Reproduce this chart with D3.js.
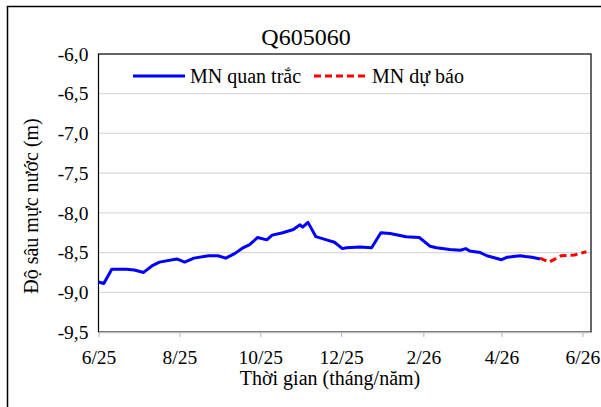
<!DOCTYPE html>
<html>
<head>
<meta charset="utf-8">
<script src="https://cdn.jsdelivr.net/npm/d3@7"></script>
<style>
  html, body { margin: 0; padding: 0; background: #fff; }
  svg { display: block; }
</style>
</head>
<body>
<svg id="chart" width="601" height="407"></svg>
<script>
// ---- data ----
const title = "Q605060";
const seriesNames = ["MN quan trắc", "MN dự báo"];
const observedDates = [
  "2025-06-01","2025-06-05","2025-06-11","2025-06-22","2025-06-28","2025-07-05",
  "2025-07-12","2025-07-17","2025-07-30","2025-08-05","2025-08-12","2025-08-23",
  "2025-08-30","2025-09-05","2025-09-12","2025-09-18","2025-09-23","2025-09-29",
  "2025-10-06","2025-10-10","2025-10-18","2025-10-26","2025-10-31","2025-11-02",
  "2025-11-06","2025-11-12","2025-11-20","2025-11-26","2025-12-02","2025-12-05",
  "2025-12-15","2025-12-24","2025-12-31","2026-01-07","2026-01-19","2026-01-29",
  "2026-02-06","2026-02-11","2026-02-21","2026-03-01","2026-03-05","2026-03-08",
  "2026-03-16","2026-03-21","2026-04-01","2026-04-05","2026-04-10","2026-04-15",
  "2026-04-19","2026-04-24","2026-04-30"
];
const observedValues = [
  -8.87,-8.89,-8.71,-8.71,-8.72,-8.75,
  -8.66,-8.62,-8.58,-8.62,-8.57,-8.54,
  -8.54,-8.57,-8.51,-8.44,-8.40,-8.31,
  -8.34,-8.28,-8.25,-8.21,-8.15,-8.18,
  -8.12,-8.30,-8.34,-8.37,-8.45,-8.44,
  -8.43,-8.44,-8.25,-8.26,-8.30,-8.31,
  -8.42,-8.44,-8.46,-8.47,-8.45,-8.48,
  -8.50,-8.54,-8.59,-8.56,-8.55,-8.54,
  -8.55,-8.56,-8.58
];
const forecastDates = ["2026-04-30","2026-05-07","2026-05-16","2026-05-26","2026-06-04"];
const forecastValues = [-8.57,-8.62,-8.54,-8.53,-8.49];
const xTickDates = ["2025-06-01","2025-08-01","2025-10-01","2025-12-01","2026-02-01","2026-04-01","2026-06-01"];
const xTickLabels = ["6/25","8/25","10/25","12/25","2/26","4/26","6/26"];
const yTicks = [-9.5,-9.0,-8.5,-8.0,-7.5,-7.0,-6.5,-6.0];
const xDomain = ["2025-06-01","2026-06-07T12:00"];
const yDomain = [-9.5,-6.0];
const xTitle = "Thời gian (tháng/năm)";
const yTitle = "Độ sâu mực nước (m)";

// ---- pick an installed serif font ----
function fontAvailable(name) {
  const c = document.createElement("canvas").getContext("2d");
  const s = "MN quan trắc Q605060 WwIil";
  return ["monospace", "sans-serif"].some(base => {
    c.font = `40px ${base}`; const w0 = c.measureText(s).width;
    c.font = `40px "${name}", ${base}`; const w1 = c.measureText(s).width;
    return Math.abs(w0 - w1) > 0.5;
  });
}
const candidates = ["Liberation Serif", "Times New Roman", "Tinos", "Nimbus Roman", "DejaVu Serif", "Noto Serif", "FreeSerif"];
const found = candidates.find(fontAvailable);
const FONT = found ? `"${found}", serif` : "serif";

// ---- drawing ----
const parse = s => new Date(s.length > 10 ? s : s + "T00:00");
const svg = d3.select("#chart").style("font-family", FONT);
const L = 98.5, R = 591, T = 54, B = 332;

const x = d3.scaleTime().domain(xDomain.map(parse)).range([L, R]);
const y = d3.scaleLinear().domain(yDomain).range([B, T]);

// outer frame (only top/left visible)
svg.append("rect").attr("x", 7.5).attr("y", 6.5).attr("width", 700).attr("height", 500)
  .attr("fill", "none").attr("stroke", "#000").attr("stroke-width", 1.5);

// gridlines
svg.append("g").selectAll("line").data(yTicks.filter(v => v > yDomain[0] && v < yDomain[1]))
  .join("line")
  .attr("x1", L).attr("x2", R)
  .attr("y1", d => y(d)).attr("y2", d => y(d))
  .attr("stroke", "#d9d9d9").attr("stroke-width", 1.2);

// plot border
svg.append("rect").attr("x", L).attr("y", T).attr("width", R - L).attr("height", B - T)
  .attr("fill", "none").attr("stroke", "#000").attr("stroke-width", 1.2);

// x axis
const xAxis = d3.axisBottom(x)
  .tickValues(xTickDates.map(parse))
  .tickFormat((d, i) => xTickLabels[i])
  .tickSize(5).tickSizeOuter(0).tickPadding(13);
const gx = svg.append("g").attr("transform", `translate(0,${B})`).call(xAxis)
  .attr("font-family", null).attr("font-size", null);
gx.select(".domain").attr("stroke", "#bfbfbf").attr("stroke-width", 1.5);
gx.selectAll(".tick line").attr("stroke", "#bfbfbf").attr("stroke-width", 1.2);
gx.selectAll(".tick text").style("font-size", "19.5px").attr("fill", "#000").style("font-family", FONT);

// y axis labels
const yAxis = d3.axisLeft(y).tickValues(yTicks)
  .tickFormat(d => d3.format(".1f")(d).replace(".", ",").replace("−", "-"))
  .tickSize(0).tickPadding(10);
const gy = svg.append("g").attr("transform", `translate(${L},0)`).call(yAxis)
  .attr("font-family", null).attr("font-size", null);
gy.select(".domain").remove();
gy.selectAll(".tick text").style("font-size", "19.5px").attr("fill", "#000").style("font-family", FONT);

// lines
const line = d3.line().x(d => x(d.date)).y(d => y(d.value));
const obs = observedDates.map((d, i) => ({ date: parse(d), value: observedValues[i] }));
const fc = forecastDates.map((d, i) => ({ date: parse(d), value: forecastValues[i] }));

svg.append("path").datum(fc).attr("d", line)
  .attr("fill", "none").attr("stroke", "#ff0000").attr("stroke-width", 3)
  .attr("stroke-dasharray", "7,4");
svg.append("path").datum(obs).attr("d", line)
  .attr("fill", "none").attr("stroke", "#0000ff").attr("stroke-width", 3)
  .attr("stroke-linejoin", "round");

// title
svg.append("text").attr("x", 306).attr("y", 45).attr("text-anchor", "middle")
  .style("font-size", "24px").text(title);

// legend
const leg = svg.append("g");
leg.append("line").attr("x1", 133).attr("x2", 185).attr("y1", 76).attr("y2", 76)
  .attr("stroke", "#0000ff").attr("stroke-width", 3);
leg.append("text").attr("x", 190).attr("y", 82.5).style("font-size", "20px").text(seriesNames[0]);
leg.append("line").attr("x1", 314).attr("x2", 368).attr("y1", 76).attr("y2", 76)
  .attr("stroke", "#ff0000").attr("stroke-width", 3).attr("stroke-dasharray", "7,4");
leg.append("text").attr("x", 372).attr("y", 82.5).style("font-size", "20px").text(seriesNames[1]);

// axis titles
svg.append("text").attr("x", 330).attr("y", 385).attr("text-anchor", "middle")
  .style("font-size", "20px").text(xTitle);
svg.append("text").attr("transform", "translate(38,206) rotate(-90)")
  .attr("text-anchor", "middle").style("font-size", "20px").text(yTitle);
</script>
</body>
</html>
